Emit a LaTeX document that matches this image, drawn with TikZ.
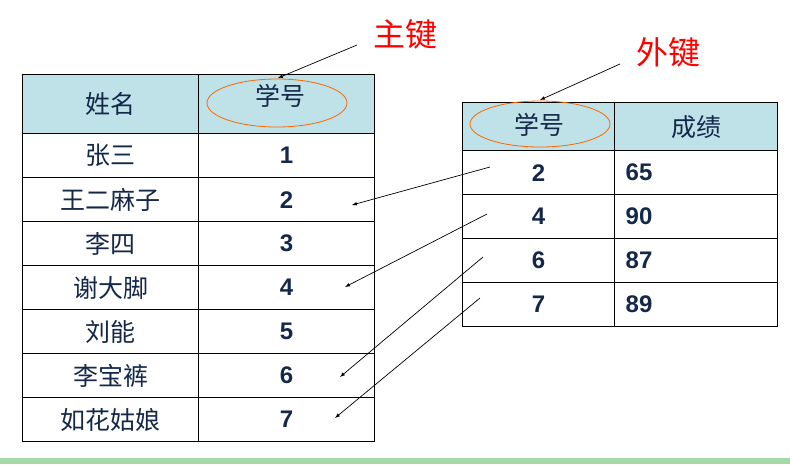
\documentclass[tikz,border=0pt]{standalone}
\usepackage{fontspec}
\setmainfont{Liberation Sans}
\newfontfamily\cjk{Noto Sans CJK SC}
\begin{document}
\begin{tikzpicture}[x=1pt,y=-1pt,
  cell/.style={draw=black,line width=1.3pt,minimum height=44pt,inner sep=0pt,anchor=north west},
  hdr/.style={cell,fill=hdrblue},
  zh/.style={font=\cjk\fontsize{25}{25}\selectfont,text=txtblue},
  num/.style={font=\bfseries\fontsize{24}{24}\selectfont,text=txtblue},
  lbl/.style={font=\cjk\fontsize{32}{32}\selectfont,text=red},
  arr/.style={-latex,line width=0.7pt}]
\definecolor{hdrblue}{HTML}{BFE1E8}
\definecolor{txtblue}{HTML}{14284A}
\useasboundingbox (0,0) rectangle (790,464);
\fill[white] (0,0) rectangle (790,464);
\fill[gray!60!green!50] (0,458) rectangle (790,464);
% left table
\node[hdr,minimum width=176pt,minimum height=59pt,zh] (lh1) at (22,74) {姓名};
\node[hdr,minimum width=176pt,minimum height=59pt] (lh2) at (198,74) {};
\node[zh] (lk) at (280,96) {学号};
\foreach \n/\k [count=\i] in {张三/1,王二麻子/2,李四/3,谢大脚/4,刘能/5,李宝裤/6,如花姑娘/7}{
  \node[cell,minimum width=176pt,zh] (ln\i) at (22,{133+44*(\i-1)}) {\n};
  \node[cell,minimum width=176pt,num] (lv\i) at (198,{133+44*(\i-1)}) {\k};
}
% right table
\node[hdr,minimum width=152pt,minimum height=48pt] (rh1) at (462,102) {};
\node[zh] (rk) at (539,125) {学号};
\node[hdr,minimum width=163pt,minimum height=48pt,zh] (rh2) at (614,102) {成绩};
\foreach \k/\s [count=\i] in {2/65,4/90,6/87,7/89}{
  \node[cell,minimum width=152pt,num] (rv\i) at (462,{150+44*(\i-1)}) {\k};
  \node[cell,minimum width=163pt,num,text width=163pt,align=left] (rs\i) at (614,{150+44*(\i-1)}) {\hspace*{11pt}\s};
}
% ellipses
\draw[orange!80!red,line width=0.8pt] (277,103) ellipse (70pt and 24pt);
\draw[orange!80!red,line width=0.8pt] (540,124) ellipse (70pt and 23pt);
% labels
\node[lbl] (pk) at (405,34) {主键};
\node[lbl] (fk) at (668,52) {外键};
\coordinate (pka) at (357,45); \coordinate (pkb) at (278,78);
\coordinate (fka) at (620,64); \coordinate (fkb) at (540,100);
\draw[arr] (pka) -- (pkb);
\draw[arr] (fka) -- (fkb);
% connectors
\coordinate (s1) at (490,167); \coordinate (t1) at (352,205);
\coordinate (s2) at (487,214); \coordinate (t2) at (345,287);
\coordinate (s3) at (483,257); \coordinate (t3) at (340,377);
\coordinate (s4) at (480,298); \coordinate (t4) at (335,418);
\foreach \i in {1,...,4}{\draw[arr] (s\i) -- (t\i);}
\end{tikzpicture}
\end{document}
